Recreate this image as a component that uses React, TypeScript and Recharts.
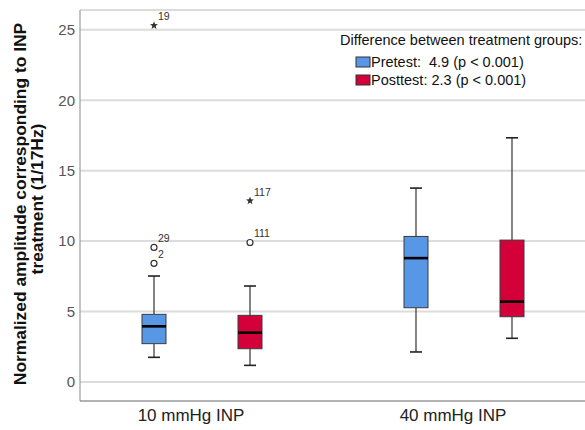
import { ComposedChart, Bar, XAxis, YAxis, CartesianGrid } from 'recharts';

// box plot statistics
const groups = ['10 mmHg INP', '40 mmHg INP'];
const yTicks = [0, 5, 10, 15, 20, 25];

const preMin = [1.75, 2.13];
const preQ1 = [2.72, 5.27];
const preMedian = [3.95, 8.79];
const preQ3 = [4.8, 10.33];
const preMax = [7.52, 13.76];

const postMin = [1.18, 3.1];
const postQ1 = [2.36, 4.63];
const postMedian = [3.5, 5.7];
const postQ3 = [4.73, 10.07];
const postMax = [6.81, 17.33];

type Outlier = { value: number; label: string; kind: 'star' | 'circle' };

const preOutliers: Outlier[][] = [
  [
    { value: 25.3, label: '19', kind: 'star' },
    { value: 9.55, label: '29', kind: 'circle' },
    { value: 8.42, label: '2', kind: 'circle' },
  ],
  [],
];
const postOutliers: Outlier[][] = [
  [
    { value: 12.86, label: '117', kind: 'star' },
    { value: 9.9, label: '111', kind: 'circle' },
  ],
  [],
];

const PRE_COLOR = '#5896e6';
const POST_COLOR = '#d3003a';
const FONT = 'Arial, "Liberation Sans", sans-serif';

const rows = groups.map((group, i) => ({
  group,
  pre: [preMin[i], preMax[i]],
  post: [postMin[i], postMax[i]],
  preStats: {
    min: preMin[i], q1: preQ1[i], median: preMedian[i], q3: preQ3[i], max: preMax[i],
    outliers: preOutliers[i],
  },
  postStats: {
    min: postMin[i], q1: postQ1[i], median: postMedian[i], q3: postQ3[i], max: postMax[i],
    outliers: postOutliers[i],
  },
}));

function starPoints(cx: number, cy: number, r: number) {
  const pts: string[] = [];
  for (let i = 0; i < 10; i++) {
    const rad = i % 2 === 0 ? r : r * 0.42;
    const a = -Math.PI / 2 + (i * Math.PI) / 5;
    pts.push(`${cx + rad * Math.cos(a)},${cy + rad * Math.sin(a)}`);
  }
  return pts.join(' ');
}

const makeBoxShape = (key: 'pre' | 'post', fill: string) => (props: any) => {
  const { x, y, width, height, payload } = props;
  const s = payload[key + 'Stats'];
  const k = Math.abs(height) / (s.max - s.min);
  const py = (v: number) => y + (s.max - v) * k;
  const cx = x + width / 2;
  const cap = width / 4;
  return (
    <g>
      {/* whiskers */}
      <line x1={cx} x2={cx} y1={py(s.max)} y2={py(s.q3)} stroke="#333" strokeWidth={1.2} />
      <line x1={cx} x2={cx} y1={py(s.q1)} y2={py(s.min)} stroke="#333" strokeWidth={1.2} />
      <line x1={cx - cap} x2={cx + cap} y1={py(s.max)} y2={py(s.max)} stroke="#222" strokeWidth={1.6} />
      <line x1={cx - cap} x2={cx + cap} y1={py(s.min)} y2={py(s.min)} stroke="#222" strokeWidth={1.6} />
      {/* box */}
      <rect x={x} y={py(s.q3)} width={width} height={py(s.q1) - py(s.q3)} fill={fill} stroke="#3a3a3a" strokeWidth={1} />
      <line x1={x} x2={x + width} y1={py(s.median)} y2={py(s.median)} stroke="#000" strokeWidth={2.6} />
      {/* outliers */}
      {s.outliers.map((o: Outlier) => (
        <g key={o.label}>
          {o.kind === 'circle' ? (
            <circle cx={cx} cy={py(o.value)} r={3} fill="#fff" stroke="#333" strokeWidth={1.2} />
          ) : (
            <polygon points={starPoints(cx, py(o.value), 4.2)} fill="#333" />
          )}
          <text x={cx + 4} y={py(o.value) - 5} fontSize={10.5} fill="#333" fontFamily={FONT}>
            {o.label}
          </text>
        </g>
      ))}
    </g>
  );
};

const preShape = makeBoxShape('pre', PRE_COLOR);
const postShape = makeBoxShape('post', POST_COLOR);

const YLabel = () => (
  <g fontFamily={FONT} fontWeight="bold" fontSize={17.4} fill="#111">
    <text transform="translate(26,204) rotate(-90)" textAnchor="middle">
      Normalized amplitude corresponding to INP
    </text>
    <text transform="translate(43,199) rotate(-90)" textAnchor="middle">
      treatment (1/17Hz)
    </text>
  </g>
);

const XTick = (p: any) => (
  <text x={p.x - 11} y={p.y} dy="0.71em" textAnchor="middle" fontSize={17} fill="#222" fontFamily={FONT}>
    {p.payload.value}
  </text>
);

export default function App() {
  return (
    <div style={{ position: 'absolute', left: 0, top: 0, width: 585, height: 430, overflow: 'hidden', background: '#fff' }}>
      <ComposedChart
        width={600}
        height={430}
        data={rows}
        margin={{ top: 10, right: 0, bottom: 0, left: 0 }}
        barGap={72}
      >
        <CartesianGrid vertical={false} stroke="#dcdcdc" strokeWidth={2} />
        <XAxis
          dataKey="group"
          height={29}
          tickLine={false}
          axisLine={{ stroke: '#8a8a8a' }}
          padding={{ left: -9, right: 5 }}
          tick={XTick}
        />
        <YAxis
          type="number"
          width={80}
          domain={[-1.35, 26.4]}
          ticks={yTicks}
          allowDataOverflow
          tickLine={false}
          tickSize={3}
          tickMargin={2}
          axisLine={{ stroke: '#8a8a8a' }}
          tick={{ fill: '#555', fontSize: 15, fontFamily: FONT }}
          label={{ content: () => <YLabel /> }}
        />
        <Bar dataKey="pre" barSize={24} shape={preShape} isAnimationActive={false} />
        <Bar dataKey="post" barSize={24} shape={postShape} isAnimationActive={false} />
      </ComposedChart>
      <svg
        width={250}
        height={70}
        style={{ position: 'absolute', left: 335, top: 25 }}
        fontFamily={FONT}
        fontSize={14.5}
        fill="#111"
      >
        <text x={5} y={20} style={{ whiteSpace: 'pre' }}>Difference between treatment groups:</text>
        <rect x={21} y={32} width={14} height={10} fill={PRE_COLOR} stroke="#333" strokeWidth={1} />
        <text x={36} y={42} style={{ whiteSpace: 'pre' }}>Pretest:  4.9 (p &lt; 0.001)</text>
        <rect x={21} y={50} width={14} height={10} fill={POST_COLOR} stroke="#333" strokeWidth={1} />
        <text x={36} y={60} style={{ whiteSpace: 'pre' }}>Posttest: 2.3 (p &lt; 0.001)</text>
      </svg>
    </div>
  );
}
